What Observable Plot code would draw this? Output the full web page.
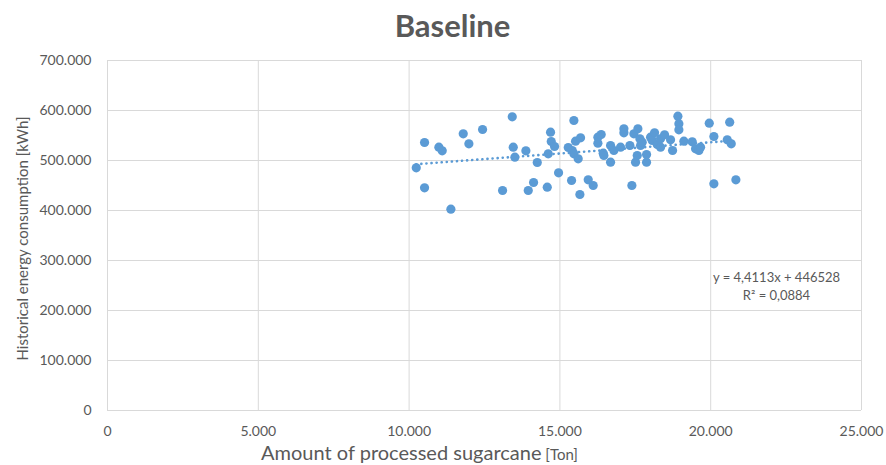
<!DOCTYPE html>
<html>
<head>
<meta charset="utf-8">
<script src="https://cdn.jsdelivr.net/npm/d3@7"></script>
<script src="https://cdn.jsdelivr.net/npm/@observablehq/plot@0.6"></script>
<style>
  html, body { margin: 0; padding: 0; background: #fff; }
</style>
</head>
<body>
<div id="chart"></div>
<script>
// Data
const sugarcane = [10237, 10512, 10512, 10987, 11098, 11385, 11795, 11982, 12436, 13099,
  13420, 13453, 13507, 13872, 13951, 14127, 14250, 14581, 14614, 14690,
  14713, 14823, 14956, 15277, 15464, 15519, 15685, 15409, 15464, 15607,
  15387, 15663, 15939, 16104, 16259, 16369, 16259, 16436, 16458, 16680,
  16680, 16790, 17011, 17122, 17122, 17321, 17387, 17453, 17586, 17508,
  17564, 17652, 17674, 17729, 17873, 17873, 18006, 18138, 18061, 18227,
  18337, 18470, 18337, 18669, 18735, 18912, 18945, 18945, 19111, 19387,
  19498, 19609, 19664, 19952, 20105, 20105, 20549, 20630, 20682, 20835];
const energy = [485400, 536000, 445400, 526600, 519400, 402600, 553400, 533400, 562000, 440000,
  587400, 526600, 506600, 519400, 440000, 456000, 496000, 446600, 513400, 556600,
  538000, 528000, 475400, 526000, 580000, 538600, 545400, 520000, 513400, 503400,
  460000, 432000, 461400, 450000, 546600, 552000, 534600, 514600, 510000, 530000,
  496600, 520000, 526600, 563400, 555400, 530000, 450000, 553400, 563400, 496600,
  510000, 543400, 530000, 536600, 496600, 512000, 546600, 555400, 540000, 532000,
  543400, 551400, 526600, 541400, 520000, 588600, 573400, 561400, 538600, 537400,
  523400, 520000, 526600, 574600, 548000, 453400, 541400, 576600, 533400, 461400];
const xTicks = [0, 5000, 10000, 15000, 20000, 25000];
const yTicks = [0, 100000, 200000, 300000, 400000, 500000, 600000, 700000];
const titleText = "Baseline";
const xLabel = "Amount of processed sugarcane";
const xUnit = "[Ton]";
const yLabel = "Historical energy consumption [kWh]";
const eqLines = ["y = 4,4113x + 446528", "R² = 0,0884"];

const data = sugarcane.map((x, i) => ({x, y: energy[i]}));
const fmt = d3.formatLocale({decimal: ",", thousands: ".", grouping: [3], currency: ["", ""]}).format(",d");
const gray = "#595959";
const blue = "#5b9bd5";
const font = "Lato, 'Open Sans', sans-serif";

const chart = Plot.plot({
  width: 886,
  height: 465,
  marginLeft: 107,
  marginRight: 25,
  marginTop: 60,
  marginBottom: 55,
  style: {fontFamily: font, fontSize: "14px", color: gray, background: "#fff", overflow: "visible"},
  x: {domain: [0, 25000]},
  y: {domain: [0, 700000]},
  marks: [
    Plot.gridX(xTicks, {stroke: "#d9d9d9", strokeOpacity: 1, strokeWidth: 1}),
    Plot.gridY(yTicks, {stroke: "#d9d9d9", strokeOpacity: 1, strokeWidth: 1}),
    Plot.axisX(xTicks, {tickSize: 0, tickPadding: 16, tickFormat: fmt, label: null, fill: gray, fontSize: 14}),
    Plot.axisY(yTicks, {tickSize: 0, tickPadding: 16, tickFormat: fmt, label: null, fill: gray, fontSize: 14}),
    Plot.dot(data, {x: "x", y: "y", r: 4.6, fill: blue, stroke: null}),
    Plot.linearRegressionY(data, {x: "x", y: "y", stroke: blue, strokeWidth: 2.6, strokeDasharray: "0.1,5", strokeLinecap: "round", ci: 0}),
    Plot.text([titleText], {frameAnchor: "top", dx: -32, dy: -33, lineAnchor: "middle", fontSize: 31, fontWeight: "bold", fill: gray}),
    Plot.text([yLabel], {frameAnchor: "left", dx: -84, dy: 3, rotate: -90, textAnchor: "middle", lineAnchor: "middle", fontSize: 15, fill: gray}),
    Plot.text([xLabel], {frameAnchor: "bottom", dx: -65, dy: 43, lineAnchor: "middle", fontSize: 20, fill: gray, className: "xlabel"}),
    Plot.text([eqLines[0]], {frameAnchor: "top-right", dx: -85, dy: 217, textAnchor: "middle", lineAnchor: "middle", fontSize: 13, fill: gray}),
    Plot.text([eqLines[1]], {frameAnchor: "top-right", dx: -85, dy: 235, textAnchor: "middle", lineAnchor: "middle", fontSize: 13, fill: gray})
  ]
});

// append the smaller unit part to the x label
const xl = chart.querySelector(".xlabel text");
if (xl) {
  const ts = document.createElementNS("http://www.w3.org/2000/svg", "tspan");
  ts.setAttribute("font-size", "15");
  ts.textContent = " " + xUnit;
  xl.appendChild(ts);
}
document.getElementById("chart").appendChild(chart);
</script>
</body>
</html>
